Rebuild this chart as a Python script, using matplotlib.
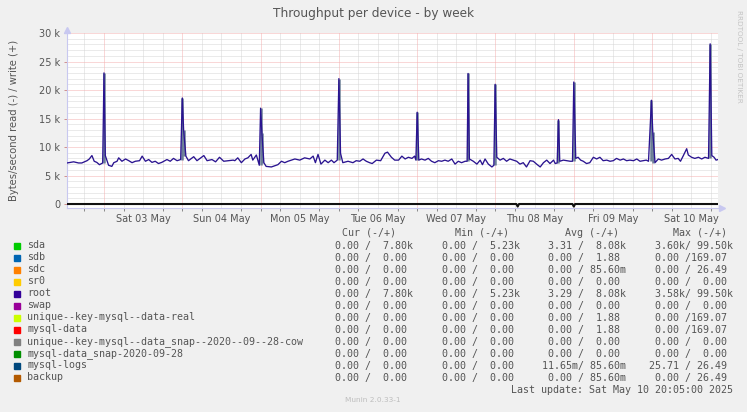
import numpy as np
import matplotlib
matplotlib.use("Agg")
import matplotlib.pyplot as plt
from matplotlib.patches import Rectangle

# hours from Sat 03 May 00:00, write throughput in k bytes/s (root / sda)
hours = [-11.34, -9.3, -7.8, -6.8, -5.2, -4.5, -3.7, -3.0, -2.2, -1.4, -0.4, 0.0, 0.4,
         1.4, 2.4, 3.0, 4.0, 4.5, 5.5, 6.6, 7.6, 8.6, 9.6, 10.9, 11.7, 12.7, 13.7, 14.7,
         15.7, 16.7, 17.7, 19.3, 20.3, 21.3, 22.4, 23.5, 24.0, 24.4, 25.1, 25.9, 27.5,
         28.5, 30.6, 31.6, 33.1, 34.2, 35.4, 36.7, 38.2, 39.6, 40.1, 41.0, 42.1, 43.2,
         44.1, 45.1, 45.6, 46.7, 47.6, 48.0, 48.4, 49.0, 49.7, 51.3, 53.3, 54.4, 55.4,
         56.4, 58.5, 60.0, 61.5, 63.1, 64.1, 64.8, 65.6, 66.5, 67.7, 68.7, 69.7, 70.5,
         71.5, 72.0, 72.5, 73.2, 74.8, 76.3, 77.3, 78.4, 79.4, 80.4, 81.4, 82.2, 83.5,
         84.8, 86.1, 86.9, 88.1, 89.1, 90.3, 91.3, 92.3, 93.3, 94.4, 95.2, 95.6, 96.0,
         96.5, 97.3, 98.4, 99.4, 100.4, 101.4, 102.5, 103.5, 104.5, 105.5, 106.6, 107.6,
         108.6, 109.6, 110.7, 111.3, 111.6, 112.0, 113.2, 114.3, 115.3, 116.0, 116.8,
         117.8, 118.9, 119.5, 119.9, 120.4, 121.4, 122.4, 123.4, 124.4, 125.4, 126.5,
         127.5, 128.5, 129.5, 130.6, 131.6, 132.6, 133.7, 134.7, 135.7, 136.7, 137.8,
         138.3, 138.9, 139.3, 139.7, 140.8, 141.9, 142.9, 143.6, 144.0, 144.6, 145.3,
         146.1, 146.9, 147.9, 148.9, 150.0, 151.0, 152.0, 153.0, 154.1, 155.1, 156.1,
         157.1, 158.2, 159.2, 160.2, 161.2, 162.3, 163.3, 164.3, 165.3, 166.2, 166.9,
         167.8, 168.2, 168.9, 169.9, 170.9, 172.0, 173.0, 174.0, 175.0, 176.0, 176.7,
         177.5, 178.6, 179.1, 180.1, 181.1, 182.2, 183.2, 184.2, 185.3, 185.8, 186.3,
         187.0, 187.6, 188.2]
write_k = [7.2, 7.4, 7.2, 7.2, 7.6, 7.9, 8.5, 7.5, 7.3, 6.9, 7.2, 23.0, 8.5,
           6.8, 6.6, 7.25, 7.5, 8.1, 7.5, 7.9, 7.6, 7.25, 7.5, 7.6, 8.4, 7.5, 7.8, 7.3,
           7.5, 7.1, 7.3, 7.8, 7.5, 8.0, 7.6, 7.8, 18.6, 13.0, 8.4, 7.6, 8.3,
           7.6, 8.5, 7.6, 7.8, 7.4, 8.2, 7.5, 7.6, 7.7, 7.6, 8.1, 7.25, 7.9,
           8.1, 8.7, 7.7, 8.6, 6.8, 16.8, 12.4, 7.25, 6.6, 6.5, 6.9, 7.5, 7.25,
           7.5, 7.9, 7.7, 8.1, 7.9, 8.4, 7.25, 8.7, 7.0, 7.7, 7.25, 7.7, 7.25,
           7.7, 22.0, 8.9, 7.25, 7.5, 7.25, 7.6, 7.5, 7.9, 7.5, 7.25, 7.1, 7.7,
           7.6, 8.9, 9.1, 8.2, 7.7, 7.7, 8.4, 7.9, 8.2, 8.0, 8.4, 7.7, 16.1,
           7.7, 7.9, 7.7, 8.0, 7.5, 7.25, 7.6, 7.5, 7.7, 7.5, 7.9, 7.0,
           7.5, 7.25, 7.5, 7.5, 22.9, 7.9, 7.5, 7.0, 7.7, 6.9, 7.9,
           7.0, 6.5, 6.8, 21.0, 8.2, 7.7, 8.0, 7.5, 7.9, 7.7, 7.5,
           7.0, 7.25, 6.5, 7.6, 7.5, 7.0, 6.5, 7.25, 7.7, 7.1, 7.7,
           7.1, 7.2, 14.8, 7.5, 7.7, 7.6, 7.5, 7.5, 21.4, 8.0, 8.2,
           7.7, 7.5, 7.1, 7.25, 8.2, 7.9, 8.2, 7.6, 7.7, 7.5, 7.6,
           8.0, 7.7, 7.9, 7.6, 7.7, 7.6, 7.9, 7.5, 7.6, 7.7, 7.5,
           18.2, 12.7, 7.25, 7.9, 7.7, 7.9, 8.0, 8.7, 7.9, 8.0, 7.5,
           8.4, 9.7, 8.6, 8.2, 8.0, 8.2, 7.9, 8.2, 8.0, 28.1, 8.5,
           8.2, 7.7, 7.8]

# read throughput (drawn below zero), k bytes/s
read_hours = [-11.34, 126.4, 126.8, 127.2, 143.6, 144.0, 144.4, 188.2]
read_k = [0.0, 0.0, 0.45, 0.0, 0.0, 0.45, 0.0, 0.0]

day_names = ["Sat 03 May", "Sun 04 May", "Mon 05 May", "Tue 06 May",
             "Wed 07 May", "Thu 08 May", "Fri 09 May", "Sat 10 May"]

names = ["sda", "sdb", "sdc", "sr0", "root", "swap", "unique--key-mysql--data-real",
         "mysql-data", "unique--key-mysql--data_snap--2020--09--28-cow",
         "mysql-data_snap-2020-09-28", "mysql-logs", "backup"]
colors = ["#00CC00", "#0066B3", "#FF8000", "#FFCC00", "#330099", "#990099",
          "#CCFF00", "#FF0000", "#808080", "#008F00", "#00487D", "#B35A00"]
cur_read = ["0.00"] * 12
cur_write = ["7.80k", "0.00", "0.00", "0.00", "7.80k", "0.00", "0.00", "0.00",
             "0.00", "0.00", "0.00", "0.00"]
min_read = ["0.00"] * 12
min_write = ["5.23k", "0.00", "0.00", "0.00", "5.23k", "0.00", "0.00", "0.00",
             "0.00", "0.00", "0.00", "0.00"]
avg_read = ["3.31", "0.00", "0.00", "0.00", "3.29", "0.00", "0.00", "0.00",
            "0.00", "0.00", "11.65m", "0.00"]
avg_write = ["8.08k", "1.88", "85.60m", "0.00", "8.08k", "0.00", "1.88", "1.88",
             "0.00", "0.00", "85.60m", "85.60m"]
max_read = ["3.60k", "0.00", "0.00", "0.00", "3.58k", "0.00", "0.00", "0.00",
            "0.00", "0.00", "25.71", "0.00"]
max_write = ["99.50k", "169.07", "26.49", "0.00", "99.50k", "0.00", "169.07", "169.07",
             "0.00", "0.00", "26.49", "26.49"]

W, H = 747, 412
TXT = "#555555"

fig = plt.figure(figsize=(W / 100, H / 100), dpi=100, facecolor="#F0F0F0")
ax = fig.add_axes([67 / W, (H - 208) / H, (718 - 67) / W, (208 - 33) / H])
ax.set_facecolor("white")

x = np.array(hours)
y = np.array(write_k) * 1000

# shading of the spikes
spike = y > 12000
lo = np.minimum(np.roll(y, 1), np.roll(y, -1))
ax.vlines(x[spike], lo[spike], y[spike], color="#6a7e96", lw=1.8, zorder=3)

ax.plot(x, y, color="#2a1490", lw=0.95, zorder=4)
ax.plot(read_hours, -np.array(read_k) * 1000, color="#111111", lw=1.5, zorder=4,
        solid_capstyle="butt")

ax.set_xlim(-11.34, 188.2)
ax.set_ylim(-700, 30000)

# grid
grey = "#d6d6d6"
red = "#f4b0b0"
dot = (0, (1, 1))
for h in np.arange(-6, 189, 6):
    if h % 24 != 0:
        ax.axvline(h, color=grey, lw=0.72, ls=dot, zorder=1)
for v in np.arange(0, 30001, 1000):
    if v % 5000 != 0:
        ax.axhline(v, color=grey, lw=0.72, ls=dot, zorder=1)
for h in np.arange(0, 169, 24):
    ax.axvline(h, color=red, lw=0.72, ls=dot, zorder=2)
for v in np.arange(5000, 30001, 5000):
    ax.axhline(v, color=red, lw=0.72, ls=dot, zorder=2)

# ticks
yt = np.arange(0, 30001, 5000)
ax.set_yticks(yt, ["0"] + [f"{v // 1000} k" for v in yt[1:]])
ax.tick_params(axis="y", length=2.2, width=0.7, color="#d09090", pad=2.5,
               labelsize=7, labelcolor=TXT)
six = np.arange(-6, 189, 6)
ax.set_xticks(six, minor=True)
ax.set_xticks(np.arange(12, 181, 24), day_names)
ax.tick_params(axis="x", which="major", length=0, pad=4.5, labelsize=7, labelcolor=TXT)
ax.tick_params(axis="x", which="minor", length=2, width=0.7, color="#888888")

for s in ["top", "right"]:
    ax.spines[s].set_visible(False)
for s in ["left", "bottom"]:
    ax.spines[s].set_color("#c8c8f0")
    ax.spines[s].set_linewidth(0.8)
ax.plot([1.006], [0], marker=">", ms=4, color="#c8c8f0", transform=ax.transAxes,
        clip_on=False)
ax.plot([0], [1.02], marker="^", ms=4, color="#c8c8f0", transform=ax.transAxes,
        clip_on=False)

# titles
fig.text(0.5, 1 - 13 / H, "Throughput per device - by week", ha="center", va="center",
         fontsize=8.7, color=TXT)
fig.text(14 / W, 1 - 120 / H, "Bytes/second read (-) / write (+)", rotation=90,
         ha="center", va="center", fontsize=7.2, color=TXT)
fig.text(739 / W, 1 - 56 / H, "RRDTOOL / TOBI OETIKER", rotation=270, ha="center",
         va="center", fontsize=5.2, color="#c4c4c4")


def fx(px):
    return px / W


def fy(py):
    return 1 - py / H


def cell(r, w):
    def part(s):
        if s[-1].isalpha():
            return f"{s[:-1]:>6}{s[-1]}"
        return f"{s:>6} "
    return part(r) + "/" + part(w)


mono = dict(family="DejaVu Sans Mono", fontsize=7.2, color=TXT, va="center")
for hx, label in zip([341.7, 455, 565, 673], ["Cur (-/+)", "Min (-/+)", "Avg (-/+)", "Max (-/+)"]):
    fig.text(fx(hx), fy(232.5), label, **mono)

col_x = [323, 429.5, 536, 643]
for i, name in enumerate(names):
    yy = 245.5 + 12 * i
    fig.add_artist(Rectangle((fx(14), fy(yy + 3)), 6 / W, 6 / H, color=colors[i],
                             transform=fig.transFigure))
    fig.text(fx(27), fy(yy), name, **mono)
    cells = [cell(cur_read[i], cur_write[i]), cell(min_read[i], min_write[i]),
             cell(avg_read[i], avg_write[i]), cell(max_read[i], max_write[i])]
    for cx, c in zip(col_x, cells):
        fig.text(fx(cx), fy(yy), c, **mono)

fig.text(fx(733), fy(390), "Last update: Sat May 10 20:05:00 2025", ha="right",
         family="DejaVu Sans Mono", fontsize=7.2, color=TXT, va="center")
fig.text(fx(373), fy(399.5), "Munin 2.0.33-1", ha="center", va="center", fontsize=5.3,
         color="#bdbdbd")

fig.savefig("out.png", dpi=100, facecolor=fig.get_facecolor())
